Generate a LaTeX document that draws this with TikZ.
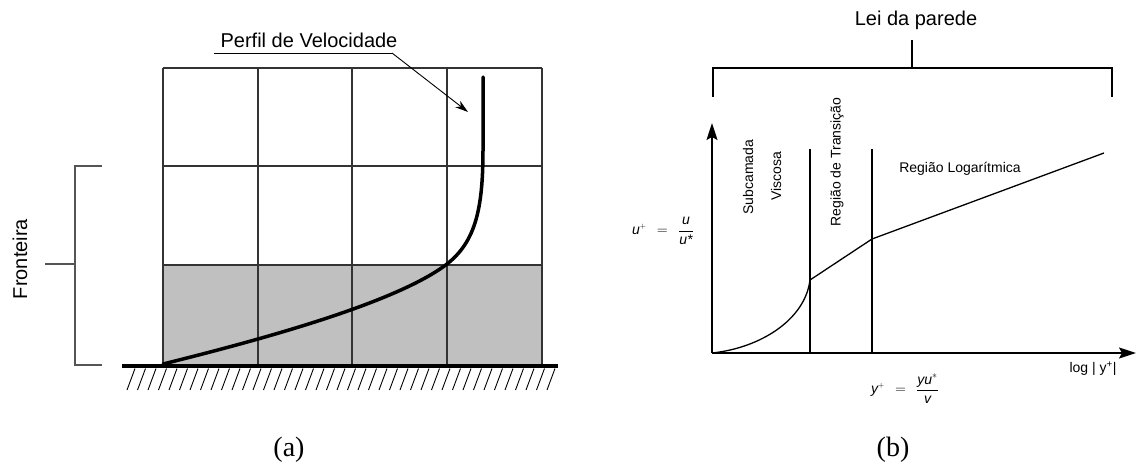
\documentclass[tikz,border=0pt]{standalone}
\usepackage{fontspec}
\setmainfont{Liberation Sans}
\newfontfamily\capfont{Liberation Serif}
\usetikzlibrary{arrows.meta}
\definecolor{cellgray}{HTML}{C0C0C0}
\definecolor{gridc}{HTML}{333333}
\definecolor{brk}{HTML}{555555}
\tikzset{
  gridline/.style={draw=gridc, line width=1.1pt},
  brkline/.style={draw=brk, line width=1.2pt},
  big/.style={font=\fontsize{20}{24}\selectfont, inner sep=0pt},
  small/.style={font=\fontsize{14}{16}\selectfont, inner sep=0pt},
  mathlbl/.style={font=\fontsize{14}{16}\selectfont, inner sep=0pt},
  caption/.style={font=\capfont\fontsize{28}{32}\selectfont, inner sep=0pt},
  plotline/.style={line width=1.3pt},
  axis/.style={line width=1.5pt, -{Stealth[length=17pt,width=11pt,inset=3pt]}}
}
\begin{document}
\begin{tikzpicture}[x=1pt,y=-1pt]
\useasboundingbox (0,0) rectangle (1136,466);
% ---------- (a) ----------
\fill[cellgray] (163,265) rectangle (542,364);
\foreach \x in {163,258,352,447,542} \draw[gridline] (\x,68) -- (\x,364);
\foreach \y in {68,166,265} \draw[gridline] (163,\y) -- (542,\y);
% ground
\coordinate (g1) at (122,366);
\coordinate (g2) at (558,366);
\draw[line width=3.5pt] (g1) -- (g2);
\foreach \x in {135,145.5,...,560} \draw[line width=0.9pt] (\x,368.5) -- (\x-8,390);
% velocity profile
\coordinate (vp0) at (163,364);
\coordinate (vp1) at (447,264);
\coordinate (vp2) at (483,150);
\coordinate (vp3) at (483,77);
\draw[line width=3.5pt, line cap=round] (vp0) .. controls (280,335) and (400,300) .. (vp1)
  .. controls (475,242) and (483,210) .. (vp2) -- (vp3);
% label + arrow
\node[big] (perfil) at (309,40) {Perfil de Velocidade};
\coordinate (u1) at (214,53);
\coordinate (u2) at (392,53);
\coordinate (tip) at (468,112);
\draw[line width=0.9pt] (u1) -- (u2);
\draw[line width=0.9pt, -{Stealth[length=13pt,width=8pt,inset=4pt]}] (u2) -- (tip);
% Fronteira bracket
\coordinate (b1) at (102,166);
\coordinate (b2) at (75,166);
\coordinate (b3) at (75,365);
\coordinate (b4) at (102,365);
\coordinate (bm) at (75,264);
\coordinate (bl) at (45,264);
\draw[brkline] (b1) -- (b2) -- (b3) -- (b4);
\draw[brkline] (bm) -- (bl);
\node[big, rotate=90] (fronteira) at (20,259) {Fronteira};
\node[caption] (capa) at (289,450) {(a)};
% ---------- (b) ----------
\node[big] (lei) at (916,20) {Lei da parede};
\coordinate (s1) at (912,40);
\coordinate (s2) at (912,68);
\draw[plotline] (s1) -- (s2);
\coordinate (L1) at (713,97);
\coordinate (L2) at (713,68);
\coordinate (L3) at (1112,68);
\coordinate (L4) at (1112,97);
\draw[plotline] (L1) -- (L2) -- (L3) -- (L4);
% axes
\coordinate (O) at (712,353);
\coordinate (ytip) at (712,123);
\coordinate (xtip) at (1136,353);
\draw[axis] (O) -- (ytip);
\draw[axis] (O) -- (xtip);
% region lines
\coordinate (v1t) at (810,149);
\coordinate (v1b) at (810,353);
\coordinate (v2t) at (872,149);
\coordinate (v2b) at (872,353);
\draw[plotline] (v1t) -- (v1b);
\draw[plotline] (v2t) -- (v2b);
% curve
\coordinate (p1) at (810,280);
\coordinate (p2) at (872,239);
\coordinate (p3) at (1104,153);
\draw[plotline] (O) .. controls (760,348) and (805,320) .. (p1) -- (p2) -- (p3);
% labels
\node[small, rotate=90] (sub) at (748,177) {Subcamada};
\node[small, rotate=90] (visc) at (776,176) {Viscosa};
\node[small, rotate=90] (trans) at (837,162) {Região de Transição};
\node[small] (loga) at (960,169) {Região Logarítmica};
\node[mathlbl] (uplus) at (663,231) {$\displaystyle\textit{u}^{\scriptscriptstyle +}\ \,=\,\ \frac{\textit{u}}{\textit{u*}}$};
\node[mathlbl] (yplus) at (905,389) {$\displaystyle\textit{y}^{\scriptscriptstyle +}\ \,=\,\ \frac{\textit{yu}^{*}}{\textit{v}}$};
\node[small] (logy) at (1093,369) {log | y\textsuperscript{+}|};
\node[caption] (capb) at (893,450) {(b)};
\end{tikzpicture}
\end{document}
